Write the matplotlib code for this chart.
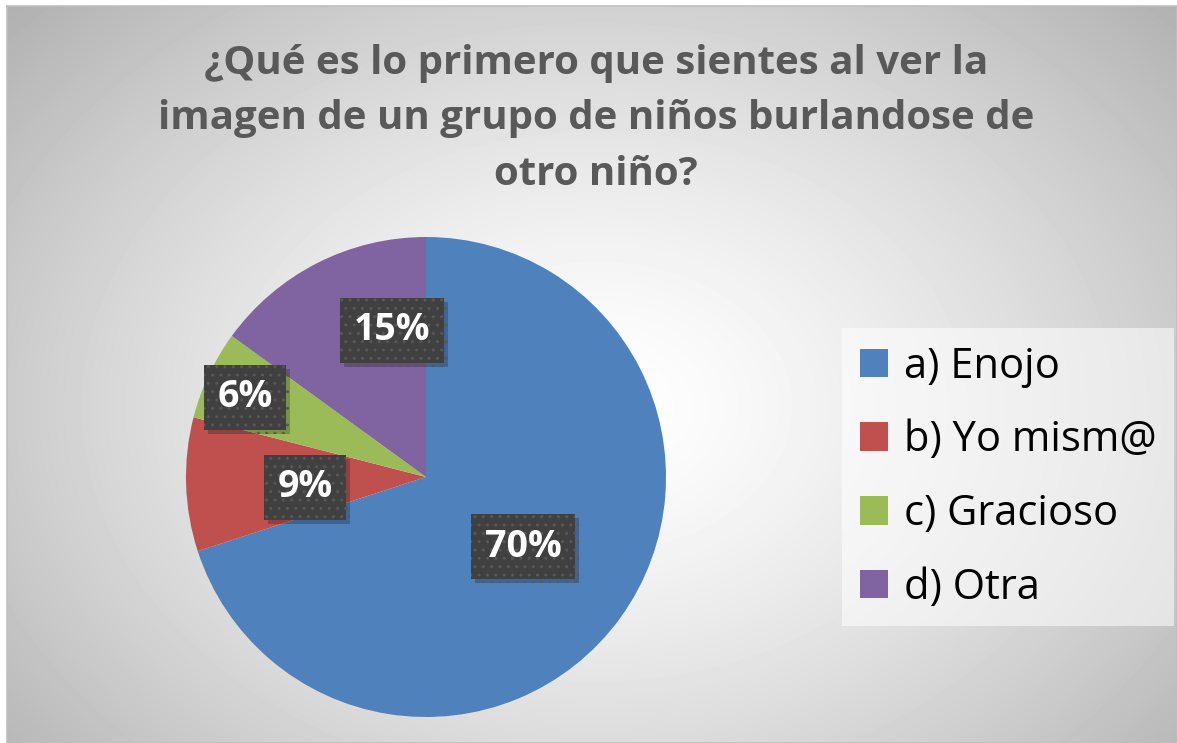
import matplotlib.pyplot as plt
import matplotlib.patheffects as pe
import numpy as np

# survey answers and their share of responses
categories = ["a) Enojo", "b) Yo mism@", "c) Gracioso", "d) Otra"]
shares = [70, 9, 6, 15]
colors = ["#4F81BD", "#C0504D", "#9BBB59", "#8064A2"]
title = "¿Qué es lo primero que sientes al ver la\nimagen de un grupo de niños burlandose de\notro niño?"

# where each percentage box sits, in pie units (radius 1)
label_pos = [(0.404, -0.29), (-0.504, -0.042), (-0.754, 0.333), (-0.142, 0.612)]

W, H = 1177, 743
fig = plt.figure(figsize=(W / 100, H / 100), dpi=100)
fig.patch.set_facecolor("white")

# chart area with radial grey gradient and thin border
bg = fig.add_axes([7 / W, 0, 1170 / W, 737 / H])
yy, xx = np.mgrid[0:737, 0:1170]
r = np.sqrt(((xx - 590) / 780.0) ** 2 + ((yy - 400) / 580.0) ** 2)
shade = np.clip(1.0 - 0.30 * r ** 1.4, 0, 1)
bg.imshow(shade, cmap="gray", vmin=0, vmax=1, aspect="auto", interpolation="bilinear")
bg.set_xticks([])
bg.set_yticks([])
for s in bg.spines.values():
    s.set_color("#bfbfbf")
    s.set_linewidth(1.2)

fig.text(596 / W, 1 - 119 / H, title, ha="center", va="center", fontsize=29,
         fontweight="bold", color="#595959", family="Open Sans", linespacing=1.55)

# pie axes: centre (426, 477) px, radius 240 px
ax = fig.add_axes([(426 - 240) / W, (H - 717) / H, 480 / W, 480 / H])
wedges, _ = ax.pie(shares, colors=colors, startangle=90, counterclock=False,
                   radius=1, wedgeprops=dict(linewidth=0))
ax.set_xlim(-1, 1)
ax.set_ylim(-1, 1)
ax.set_aspect("auto")
ax.axis("off")

for val, (x, y) in zip(shares, label_pos):
    t = ax.text(x, y, "{}%".format(val), ha="center", va="center", fontsize=27,
                fontweight="bold", family="Open Sans", color="white",
                bbox=dict(boxstyle="square,pad=0.36", facecolor="#404040",
                          edgecolor="#575757", linewidth=0, hatch=".."))
    # soft drop shadow under the label box
    t.get_bbox_patch().set_path_effects(
        [pe.SimplePatchShadow(offset=(3, -3), shadow_rgbFace="black", alpha=0.22),
         pe.Normal()])

handles = [plt.Rectangle((0, 0), 1, 1, facecolor=c) for c in colors]
leg = fig.legend(handles, categories, loc="upper left",
                 bbox_to_anchor=(842 / W, 1 - 328 / H), frameon=True,
                 fancybox=False, prop=dict(family="Open Sans", size=30),
                 handlelength=0.68, handleheight=0.68, handletextpad=0.38,
                 labelspacing=0.76, borderpad=0.42, borderaxespad=0)
leg.get_frame().set_facecolor("white")
leg.get_frame().set_alpha(0.55)
leg.get_frame().set_edgecolor("none")

fig.savefig("out.png", dpi=100)
